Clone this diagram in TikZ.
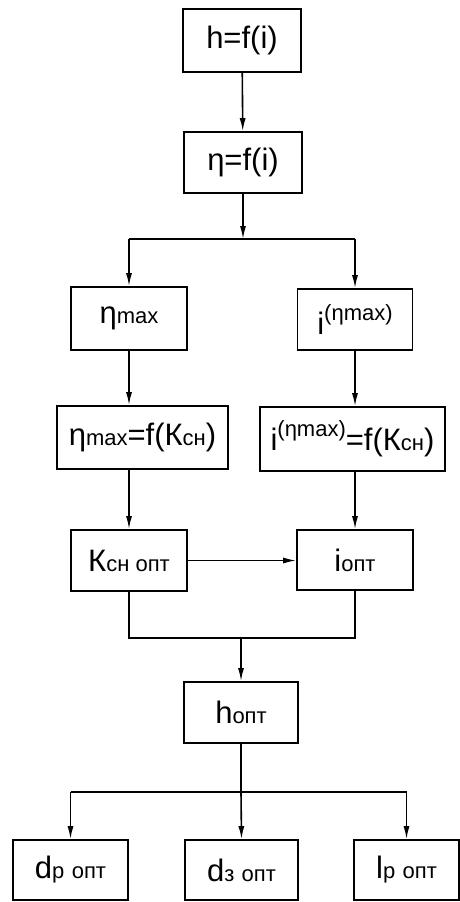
\documentclass[tikz,border=0pt]{standalone}
\usepackage{fontspec}
\setmainfont{Liberation Sans}
\usetikzlibrary{arrows.meta}
\newcommand{\smtxt}[1]{{\fontsize{22}{22}\selectfont #1}}
\newcommand{\suptxt}[1]{\raisebox{14pt}{\fontsize{22}{22}\selectfont #1}}

\begin{document}
\begin{tikzpicture}[x=1pt,y=-1pt,>={Latex[length=13pt,width=6pt]},line width=1.6pt,
  blk/.style={draw,line width=1.6pt,inner sep=0pt,font=\fontsize{31}{31}\selectfont}]
  \useasboundingbox (0,0) rectangle (460,902);
  % top chain
  \node[blk,minimum width=118,minimum height=63] (hf) at (242,40.5){h=f(i)};
  \node[blk,minimum width=118,minimum height=61] (etaf) at (243,162.5){η=f(i)};
  \draw[->] (hf) -- (etaf);
  \coordinate (s1) at (243,239);
  \draw[->] (etaf) -- (s1);
  % two branches
  \node[blk,minimum width=116,minimum height=63] (etamax) at (129,318.5){η\smtxt{max}};
  \node[blk,minimum width=115,minimum height=61] (imax) at (355,319.5){i\suptxt{(ηmax)}};
  \draw[->] (etamax.north |- s1) -| (etamax.north);
  \draw[->] (imax.north |- s1) -- (imax.north);
  \draw (etamax.north |- s1) -- (imax.north |- s1);
  \node[blk,minimum width=171,minimum height=63] (etak) at (142.5,437.5){η\smtxt{max}=f(К\smtxt{сн})};
  \node[blk,minimum width=185,minimum height=64] (ik) at (352.5,439){i\suptxt{(ηmax)}=f(К\smtxt{сн})};
  \draw[->] (etamax) -- (etamax |- etak.north);
  \draw[->] (imax) -- (imax |- ik.north);
  \node[blk,minimum width=116,minimum height=61] (kopt) at (129,560.5){К\smtxt{сн опт}};
  \node[blk,minimum width=116,minimum height=60] (iopt) at (355,560){i\smtxt{опт}};
  \draw[->] (etamax |- etak.south) -- (kopt);
  \draw[->] (imax |- ik.south) -- (iopt);
  \draw[->] (kopt.east) -- (iopt.west |- kopt.east);
  % merge
  \node[blk,minimum width=114,minimum height=61] (hopt) at (241,712.5){h\smtxt{опт}};
  \coordinate (m1) at (241,638);
  \draw (kopt) |- (m1) -| (iopt);
  \draw[->] (m1) -- (hopt);
  % bottom row
  \node[blk,minimum width=115,minimum height=60] (dp) at (70.5,870){d\smtxt{р\,\,опт}};
  \node[blk,minimum width=113,minimum height=60] (dz) at (241.5,870){d\smtxt{з\,\,опт}};
  \node[blk,minimum width=105,minimum height=60] (lp) at (406.5,870){l\smtxt{р\,\,опт}};
  \coordinate (s2) at (241,792);
  \draw (hopt) -- (s2);
  \draw (dp.north |- s2) -- (lp.north |- s2);
  \draw[->] (dp.north |- s2) -- (dp.north);
  \draw[->] (s2) -- (dz.north);
  \draw[->] (lp.north |- s2) -- (lp.north);
\end{tikzpicture}
\end{document}
